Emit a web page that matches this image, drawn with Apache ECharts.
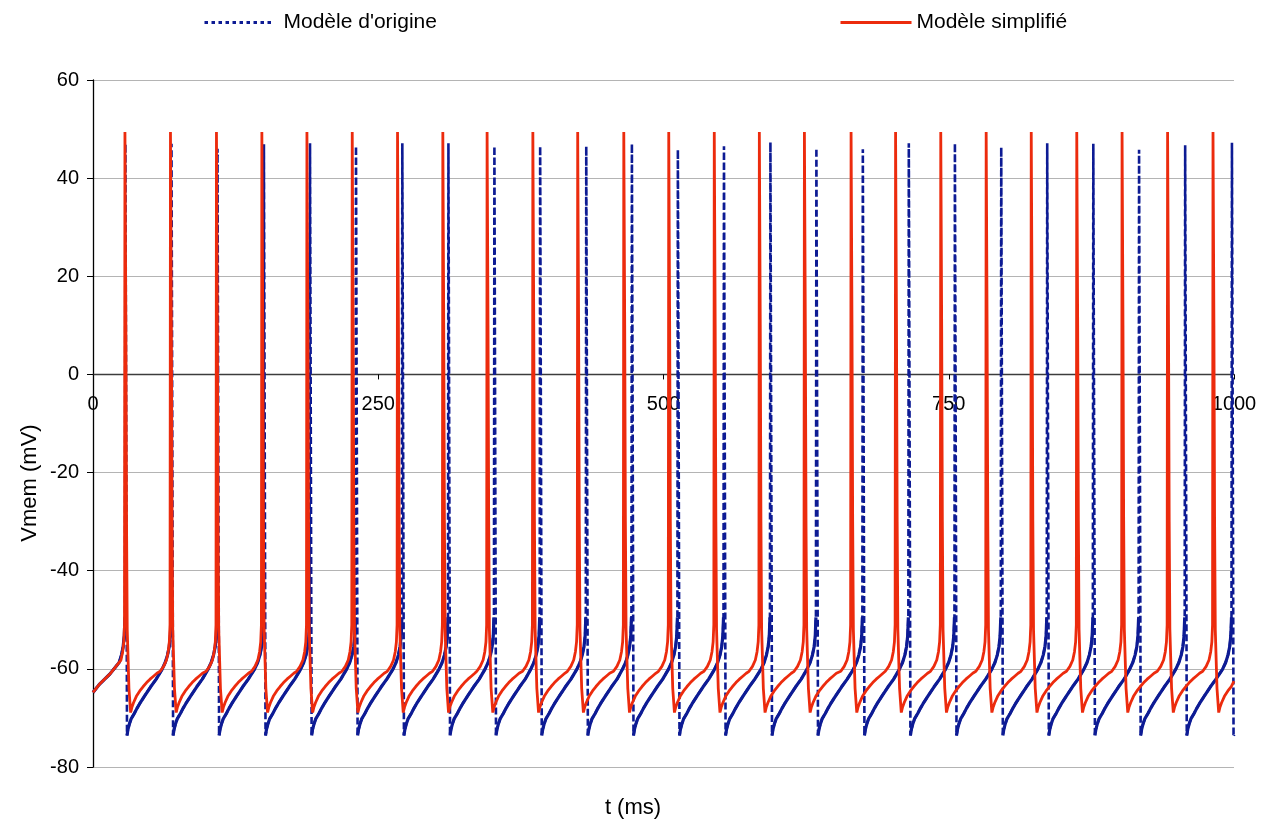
<!DOCTYPE html>
<html>
<head>
<meta charset="utf-8">
<script src="https://cdn.jsdelivr.net/npm/echarts@6/dist/echarts.min.js"></script>
<style>
  html, body { margin: 0; padding: 0; background: #fff; }
  #chart { width: 1274px; height: 825px; }
</style>
</head>
<body>
<div id="chart"></div>
<script>
// Membrane potential of the original and the simplified neuron model, 0–1000 ms.
const seriesNames = ["Modèle d'origine", "Modèle simplifié"];
const xTicks = [0, 250, 500, 750, 1000];
const yTicks = [-80, -60, -40, -20, 0, 20, 40, 60];
const xTitle = 't (ms)';
const yTitle = 'Vmem (mV)';

// Shared ramp from rest up to the first spike (t in ms, V in mV)
const startT = [0, 5.8, 14.6, 20.5];
const startV = [-64.8, -63.1, -61.1, -59.4];

// Original model: spike times (ms) and spike peaks (mV)
const origSpikeT = [28.4, 68.8, 109.1, 149.8, 190.2, 230.5, 271.1, 311.5, 351.8, 391.9,
                    432.3, 472.3, 512.6, 553.0, 593.7, 634.0, 674.7, 715.0, 755.4, 796.0,
                    836.3, 876.7, 916.8, 957.2, 998.2];
const origPeakV = [47.0, 47.0, 46.0, 46.9, 47.1, 46.5, 47.1, 47.1, 46.5, 46.5,
                   46.5, 47.0, 45.8, 46.5, 47.3, 46.1, 45.9, 47.1, 47.1, 46.3,
                   47.1, 47.0, 45.8, 46.7, 47.2];

// Simplified model: spike times (ms) and spike peak (mV)
const simpSpikeT = [28.0, 67.9, 108.2, 148.0, 187.5, 227.2, 266.9, 306.6, 345.4, 385.5,
                    424.8, 465.2, 504.6, 544.5, 584.0, 623.5, 664.4, 703.4, 743.0, 782.8,
                    822.3, 862.2, 901.9, 941.8, 981.6];
const simpPeakV = 49.4;

// Waveform around one spike: offset from the spike time (ms) and potential (mV).
// The slot at offset 0 is the peak of that spike.
const origShapeDt = [-8.3, -5.5, -3.5, -2.0, -1.0, -0.4, 0, 1.4, 2.2, 3.4, 5.0, 7.8, 10.0, 12.5, 16.6, 22.0, 27.0];
const origShapeV  = [-60.1, -58.7, -57.2, -55.5, -53.3, -49.5, null, -73.6, -72.4, -71.3, -70.2, -69.1, -68.1, -67.1, -65.6, -63.7, -62.1];
const simpShapeDt = [-9.0, -6.0, -3.5, -2.0, -1.0, -0.4, 0, 0.3, 0.8, 1.4, 2.0, 3.5, 5.0, 6.0, 7.5, 10.0, 13.0, 16.0, 19.0, 22.0, 25.0, 28.0];
const simpShapeV  = [-60.5, -59.5, -58.2, -56.5, -54.5, -51.0, null, 49.0, 10.0, -30.0, -52.0, -64.0, -68.9, -67.9, -66.9, -65.6, -64.5, -63.6, -62.8, -62.1, -61.5, -60.9];

// Potential at the end of the record
const endT = 1000;
const origEndV = -73.4;
const simpEndV = -62.5;

// Assemble a trace: ramp, then one waveform per spike, then the end value.
// With `gapAtSpike`, the spike itself (peak down to the trough) is left out;
// that copy is drawn solid over the dashed trace.
function buildTrace(spikeT, peakAt, shapeDt, shapeV, endV, gapAtSpike) {
  const troughIdx = shapeV.indexOf(Math.min(...shapeV.filter(v => v !== null)));
  const pts = [];
  for (let i = 0; i < startT.length; i++) pts.push([startT[i], startV[i]]);
  let lastT = startT[startT.length - 1];
  spikeT.forEach((ts, k) => {
    let gapped = false;
    for (let j = 0; j < shapeDt.length; j++) {
      const t = +(ts + shapeDt[j]).toFixed(2);
      if (t <= lastT || t > endT) continue;
      const v = shapeV[j] === null ? peakAt(k) : shapeV[j];
      if (gapAtSpike && shapeDt[j] >= 0 && j < troughIdx) {
        if (!gapped) { pts.push([t, '-']); gapped = true; }
        lastT = t;
        continue;
      }
      pts.push([t, v]);
      lastT = t;
    }
  });
  if (lastT < endT) pts.push([endT, endV]);
  return pts;
}

const origData = buildTrace(origSpikeT, k => origPeakV[k], origShapeDt, origShapeV, origEndV, false);
const origSolid = buildTrace(origSpikeT, k => origPeakV[k], origShapeDt, origShapeV, origEndV, true);
const simpData = buildTrace(simpSpikeT, () => simpPeakV, simpShapeDt, simpShapeV, simpEndV, false);

const BLUE = '#0d1b94';
const RED = '#ec2b0d';
const FONT = '"Liberation Sans", Arial, sans-serif';

// grid geometry; the time axis sits on V = 0
const gridTop = 80, gridBottom = 58, chartH = 825;
const plotH = chartH - gridTop - gridBottom;
const yMin = yTicks[0], yMax = yTicks[yTicks.length - 1];
const xAxisOffset = -plotH * (0 - yMin) / (yMax - yMin);

const noSymbol = { color: 'rgba(0,0,0,0)', borderWidth: 0 };

const chart = echarts.init(document.getElementById('chart'), null, { renderer: 'canvas' });
chart.setOption({
  animation: false,
  backgroundColor: '#ffffff',
  grid: { left: 93, right: 40, top: gridTop, bottom: gridBottom },
  legend: [
    {
      data: [seriesNames[0]], left: 198, top: 7, itemWidth: 70, itemHeight: 12, itemGap: 0,
      itemStyle: noSymbol,
      lineStyle: { color: BLUE, width: 3, type: [3.5, 3.5] },
      textStyle: { fontFamily: FONT, fontSize: 21, color: '#000', padding: [0, 0, 0, 4] }
    },
    {
      data: [seriesNames[1]], left: 834, top: 7, itemWidth: 71, itemHeight: 12, itemGap: 0,
      itemStyle: noSymbol,
      lineStyle: { color: RED, width: 3 },
      textStyle: { fontFamily: FONT, fontSize: 21, color: '#000', padding: [0, 0, 0, 0] }
    }
  ],
  xAxis: {
    type: 'value',
    min: xTicks[0], max: xTicks[xTicks.length - 1], interval: xTicks[1] - xTicks[0],
    offset: xAxisOffset,
    axisLine: { onZero: false, lineStyle: { color: '#3c3c3c', width: 1.3 } },
    axisTick: { show: true, length: 5, lineStyle: { color: '#000' } },
    axisLabel: { margin: 20, fontFamily: FONT, fontSize: 20, color: '#000', formatter: v => String(v) },
    splitLine: { show: false }
  },
  yAxis: {
    type: 'value',
    min: yMin, max: yMax, interval: yTicks[1] - yTicks[0],
    axisLine: { show: true, onZero: false, lineStyle: { color: '#000', width: 1.3 } },
    axisTick: { show: true, length: 6, lineStyle: { color: '#000' } },
    axisLabel: { margin: 14, fontFamily: FONT, fontSize: 20, color: '#000' },
    splitLine: { show: true, lineStyle: { color: '#b4b4b4', width: 1.2 } }
  },
  graphic: [
    {
      type: 'text', x: 30, y: 483, rotation: Math.PI / 2,
      style: { text: yTitle, font: '22px ' + FONT, fill: '#000', align: 'center', verticalAlign: 'middle' }
    },
    {
      type: 'text', x: 633, y: 808,
      style: { text: xTitle, font: '22px ' + FONT, fill: '#000', align: 'center', verticalAlign: 'middle' }
    }
  ],
  series: [
    {
      name: seriesNames[0], type: 'line', data: origData, showSymbol: false, symbol: 'none',
      connectNulls: false, lineStyle: { color: BLUE, width: 2.6, type: [7, 3] }, itemStyle: { color: BLUE }, z: 2
    },
    {
      name: seriesNames[0], type: 'line', data: origSolid, showSymbol: false, symbol: 'none',
      connectNulls: false, lineStyle: { color: BLUE, width: 3.2 }, itemStyle: { color: BLUE }, z: 2
    },
    {
      name: seriesNames[1], type: 'line', data: simpData, showSymbol: false, symbol: 'none',
      lineStyle: { color: RED, width: 2.8 }, itemStyle: { color: RED }, z: 3
    }
  ]
});
</script>
</body>
</html>
